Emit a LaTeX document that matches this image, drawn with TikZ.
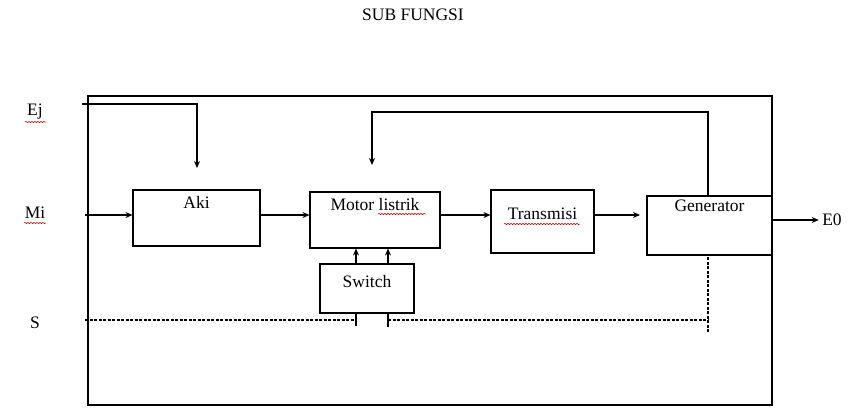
\documentclass[tikz,border=0pt]{standalone}
\usepackage{fontspec}
\setmainfont{Liberation Serif}
\usetikzlibrary{arrows.meta,positioning,calc,decorations.pathmorphing}

\begin{document}
\begin{tikzpicture}[x=1pt,y=-1pt,>={Stealth[length=7pt,width=6pt]},
    font=\fontsize{17.5}{20}\selectfont,
    block/.style={draw,line width=1.1pt,inner sep=0pt},
    wire/.style={line width=1.1pt},
    dwire/.style={line width=1.1pt,dash pattern=on 3pt off 1.5pt},
    squiggle/.style={red!80!black,line width=0.5pt,decorate,
      decoration={snake,segment length=3pt,amplitude=0.7pt}}]
  \useasboundingbox (0,0) rectangle (850,407);

  % outer frame
  \draw[wire] (88,96) rectangle (772,405);
  \node (title) at (413,15) {SUB FUNGSI};

  % blocks
  \node[block,minimum width=127pt,minimum height=56pt] (aki) at (196.5,218) {};
  \node[block,minimum width=130pt,minimum height=56pt] (motor) at (375,220) {};
  \node[block,minimum width=103pt,minimum height=63pt] (trans) at (542.5,221.5) {};
  \node[block,minimum width=125pt,minimum height=59pt] (gen) at (709.5,225.5) {};
  \node[block,minimum width=94pt,minimum height=49pt] (switch) at (367,288.5) {};
  \node[below=3pt of aki.north] (akitxt) {Aki};
  \node[below=3pt of motor.north] (motortxt) {Motor listrik};
  \node (transtxt) at (542.5,214) {Transmisi};
  \node[below=1pt of gen.north] (gentxt) {Generator};
  \node (switchtxt) at (367,282) {Switch};
  \draw[line width=1.8pt] (gen.north east) -- (gen.south east);

  % inputs and output
  \node (ej) at (35,112) {Ej};
  \node (mi) at (35,213) {Mi};
  \node (s) at (35,323) {S};
  \node (eo) at (832,220) {E0};
  \coordinate (ejA) at (82,104);
  \coordinate (miA) at (85,215);
  \coordinate (sA) at (85,320);
  \draw[wire,->] (ejA) -- (197,104) -- (197,168);
  \draw[wire,->] (miA) -- (aki.west |- miA);
  \draw[wire,->] (aki.east |- miA) -- (motor.west |- miA);
  \draw[wire,->] (motor.east |- miA) -- (trans.west |- miA);
  \draw[wire,->] (trans.east |- miA) -- (640,215);
  \draw[wire,->] (772,220) -- (eo.west);

  % feedback generator -> motor
  \draw[wire,->] (gen.north -| 708,0) -- (708,112) -- (372,112) -- (372,165);

  % switch -> motor
  \draw[wire,->] (switch.north -| 356,0) -- (motor.south -| 356,0);
  \draw[wire,->] (switch.north -| 388,0) -- (motor.south -| 388,0);

  % control lines
  \draw[dwire] (sA) -- (356,320);
  \draw[wire] (switch.south -| 356,0) -- (356,326);
  \draw[wire] (switch.south -| 388,0) -- (388,327);
  \draw[dwire] (388,320) -- (708,320);
  \draw[dwire] (708,332) -- (gen.south -| 708,0);

  % spell-check marks
  \draw[squiggle] (25,122) -- (46,122);
  \draw[squiggle] (24,223) -- (46,223);
  \draw[squiggle] (378,214) -- (426,214);
  \draw[squiggle] (504,224) -- (580,224);
\end{tikzpicture}
\end{document}
